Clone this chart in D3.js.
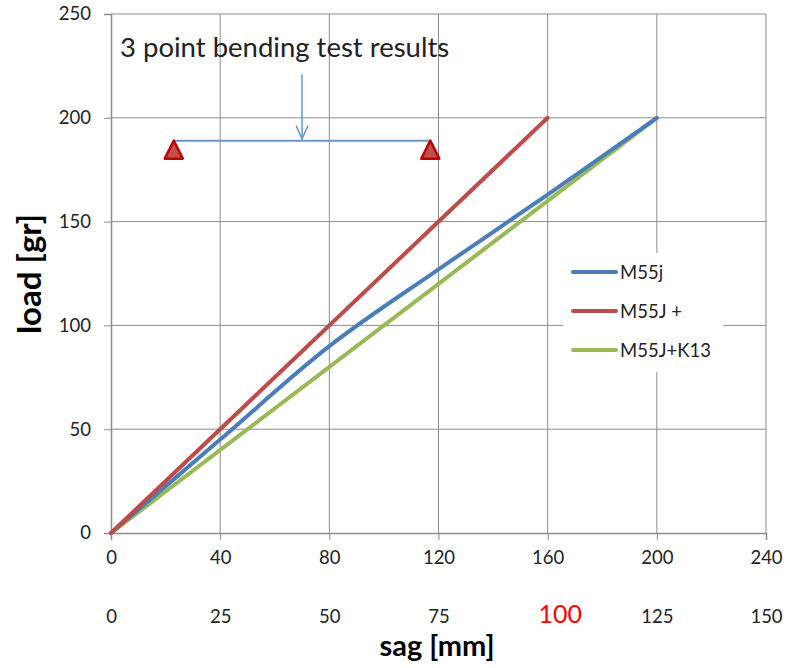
<!DOCTYPE html>
<html>
<head>
<meta charset="utf-8">
<script src="https://cdn.jsdelivr.net/npm/d3@7/dist/d3.min.js"></script>
<style>
  html, body { margin: 0; padding: 0; background: #fff; }
  svg text { font-family: Lato, "Open Sans", sans-serif; }
</style>
</head>
<body>
<svg id="chart" width="811" height="668"></svg>
<script>
// Sag readings (primary scale) and loads for each specimen
const sagM55j = [0, 40, 80, 120, 160, 200];
const loadM55j = [0, 45, 90, 127, 163, 200];
const sagM55JPlus = [0, 160];
const loadM55JPlus = [0, 200];
const sagM55JK13 = [0, 200];
const loadM55JK13 = [0, 200];

const seriesNames = ["M55j", "M55J +", "M55J+K13"];
const seriesColors = ["#4a7ebb", "#be4b48", "#98b954"];

const xTicks = [0, 40, 80, 120, 160, 200, 240];
const yTicks = [0, 50, 100, 150, 200, 250];
const mmTicks = [0, 25, 50, 75, 100, 125, 150];
const highlightedMm = 100;

// Schematic of the bending fixture, in data units
const supportSag = [23, 117];
const supportLoad = 189;
const loadPointSag = 70;
const loadArrowTop = 221;

const svg = d3.select("#chart");
const plotLeft = 111, plotRight = 766, plotTop = 14, plotBottom = 533;

const x = d3.scaleLinear().domain([0, 240]).range([plotLeft, plotRight]);
const y = d3.scaleLinear().domain([0, 250]).range([plotBottom, plotTop]);
const xMm = d3.scaleLinear().domain([0, 150]).range([plotLeft, plotRight]);

const gridColor = "#8c8c8c";
const labelSize = "18.5px";

// Grid lines
svg.append("g").selectAll("line").data(xTicks.slice(1)).join("line")
  .attr("x1", d => x(d)).attr("x2", d => x(d))
  .attr("y1", plotTop).attr("y2", plotBottom)
  .attr("stroke", gridColor).attr("stroke-width", 1);
svg.append("g").selectAll("line").data(yTicks.slice(1)).join("line")
  .attr("x1", plotLeft).attr("x2", plotRight)
  .attr("y1", d => y(d)).attr("y2", d => y(d))
  .attr("stroke", gridColor).attr("stroke-width", 1);

// Axes
const yAxis = svg.append("g").attr("transform", `translate(${plotLeft},0)`)
  .call(d3.axisLeft(y).tickValues(yTicks).tickSize(7).tickPadding(13));
const xAxis = svg.append("g").attr("transform", `translate(0,${plotBottom})`)
  .call(d3.axisBottom(x).tickValues(xTicks).tickSize(7).tickPadding(11));
[yAxis, xAxis].forEach(a => {
  a.select(".domain").attr("stroke", gridColor).attr("stroke-width", 1.5);
  a.selectAll(".tick line").attr("stroke", gridColor);
  a.selectAll(".tick text").attr("fill", "#222").style("font-size", labelSize);
});

// Secondary sag axis in millimetres
const mmAxis = svg.append("g").attr("transform", `translate(0,604)`)
  .call(d3.axisBottom(xMm).tickValues(mmTicks).tickSize(0).tickPadding(6));
mmAxis.select(".domain").remove();
mmAxis.selectAll(".tick text")
  .attr("fill", d => d === highlightedMm ? "#ff0000" : "#222")
  .style("font-size", d => d === highlightedMm ? "25px" : labelSize)
  .attr("dx", d => d === highlightedMm ? 12 : 0)
  .attr("dy", d => d === highlightedMm ? "0.5em" : "0.71em");

// Axis titles
svg.append("text").attr("x", 437).attr("y", 656).attr("text-anchor", "middle")
  .style("font-size", "29px").style("font-weight", "bold").attr("fill", "#000")
  .text("sag [mm]");
svg.append("text").attr("transform", "translate(41,274) rotate(-90)")
  .attr("text-anchor", "middle")
  .style("font-size", "33px").style("font-weight", "bold").attr("fill", "#000")
  .text("load [gr]");

// Title inside the plot
svg.append("text").attr("x", 120).attr("y", 57)
  .style("font-size", "27.5px").attr("fill", "#222")
  .text("3 point bending test results");

// Fixture schematic
const beamColor = "#6b96cc";
svg.append("line")
  .attr("x1", x(supportSag[0])).attr("x2", x(supportSag[1]))
  .attr("y1", y(supportLoad)).attr("y2", y(supportLoad))
  .attr("stroke", beamColor).attr("stroke-width", 2);
svg.append("line")
  .attr("x1", x(loadPointSag)).attr("x2", x(loadPointSag))
  .attr("y1", y(loadArrowTop)).attr("y2", y(supportLoad) - 1)
  .attr("stroke", beamColor).attr("stroke-width", 1.5);
svg.append("path")
  .attr("d", `M${x(loadPointSag) - 6},${y(supportLoad) - 15} L${x(loadPointSag)},${y(supportLoad) - 2} L${x(loadPointSag) + 6},${y(supportLoad) - 15}`)
  .attr("fill", "none").attr("stroke", beamColor).attr("stroke-width", 1.5);
svg.append("g").selectAll("path").data(supportSag).join("path")
  .attr("d", d => {
    const cx = x(d), ty = y(supportLoad);
    return `M${cx},${ty} L${cx + 9},${ty + 18} L${cx - 9},${ty + 18} Z`;
  })
  .attr("fill", "#c0504d").attr("stroke", "#c00000").attr("stroke-width", 2.5)
  .attr("stroke-linejoin", "round");

// Data lines
const line = d3.line().x(d => x(d[0])).y(d => y(d[1]));
const series = [
  { pts: d3.zip(sagM55JK13, loadM55JK13), color: seriesColors[2], curve: d3.curveLinear },
  { pts: d3.zip(sagM55j, loadM55j), color: seriesColors[0], curve: d3.curveCatmullRom },
  { pts: d3.zip(sagM55JPlus, loadM55JPlus), color: seriesColors[1], curve: d3.curveLinear }
];
series.forEach(s => {
  svg.append("path").datum(s.pts)
    .attr("d", line.curve(s.curve))
    .attr("fill", "none").attr("stroke", s.color)
    .attr("stroke-width", 4).attr("stroke-linecap", "round");
});

// Legend
const legend = svg.append("g");
legend.append("rect").attr("x", 563).attr("y", 253).attr("width", 160).attr("height", 119)
  .attr("fill", "#fff");
const rowY = [272, 311, 350];
seriesNames.forEach((name, i) => {
  legend.append("line").attr("x1", 573).attr("x2", 616)
    .attr("y1", rowY[i]).attr("y2", rowY[i])
    .attr("stroke", seriesColors[i]).attr("stroke-width", 4).attr("stroke-linecap", "round");
  legend.append("text").attr("x", 620).attr("y", rowY[i] + 6.5)
    .style("font-size", labelSize).attr("fill", "#222").text(name);
});
</script>
</body>
</html>
